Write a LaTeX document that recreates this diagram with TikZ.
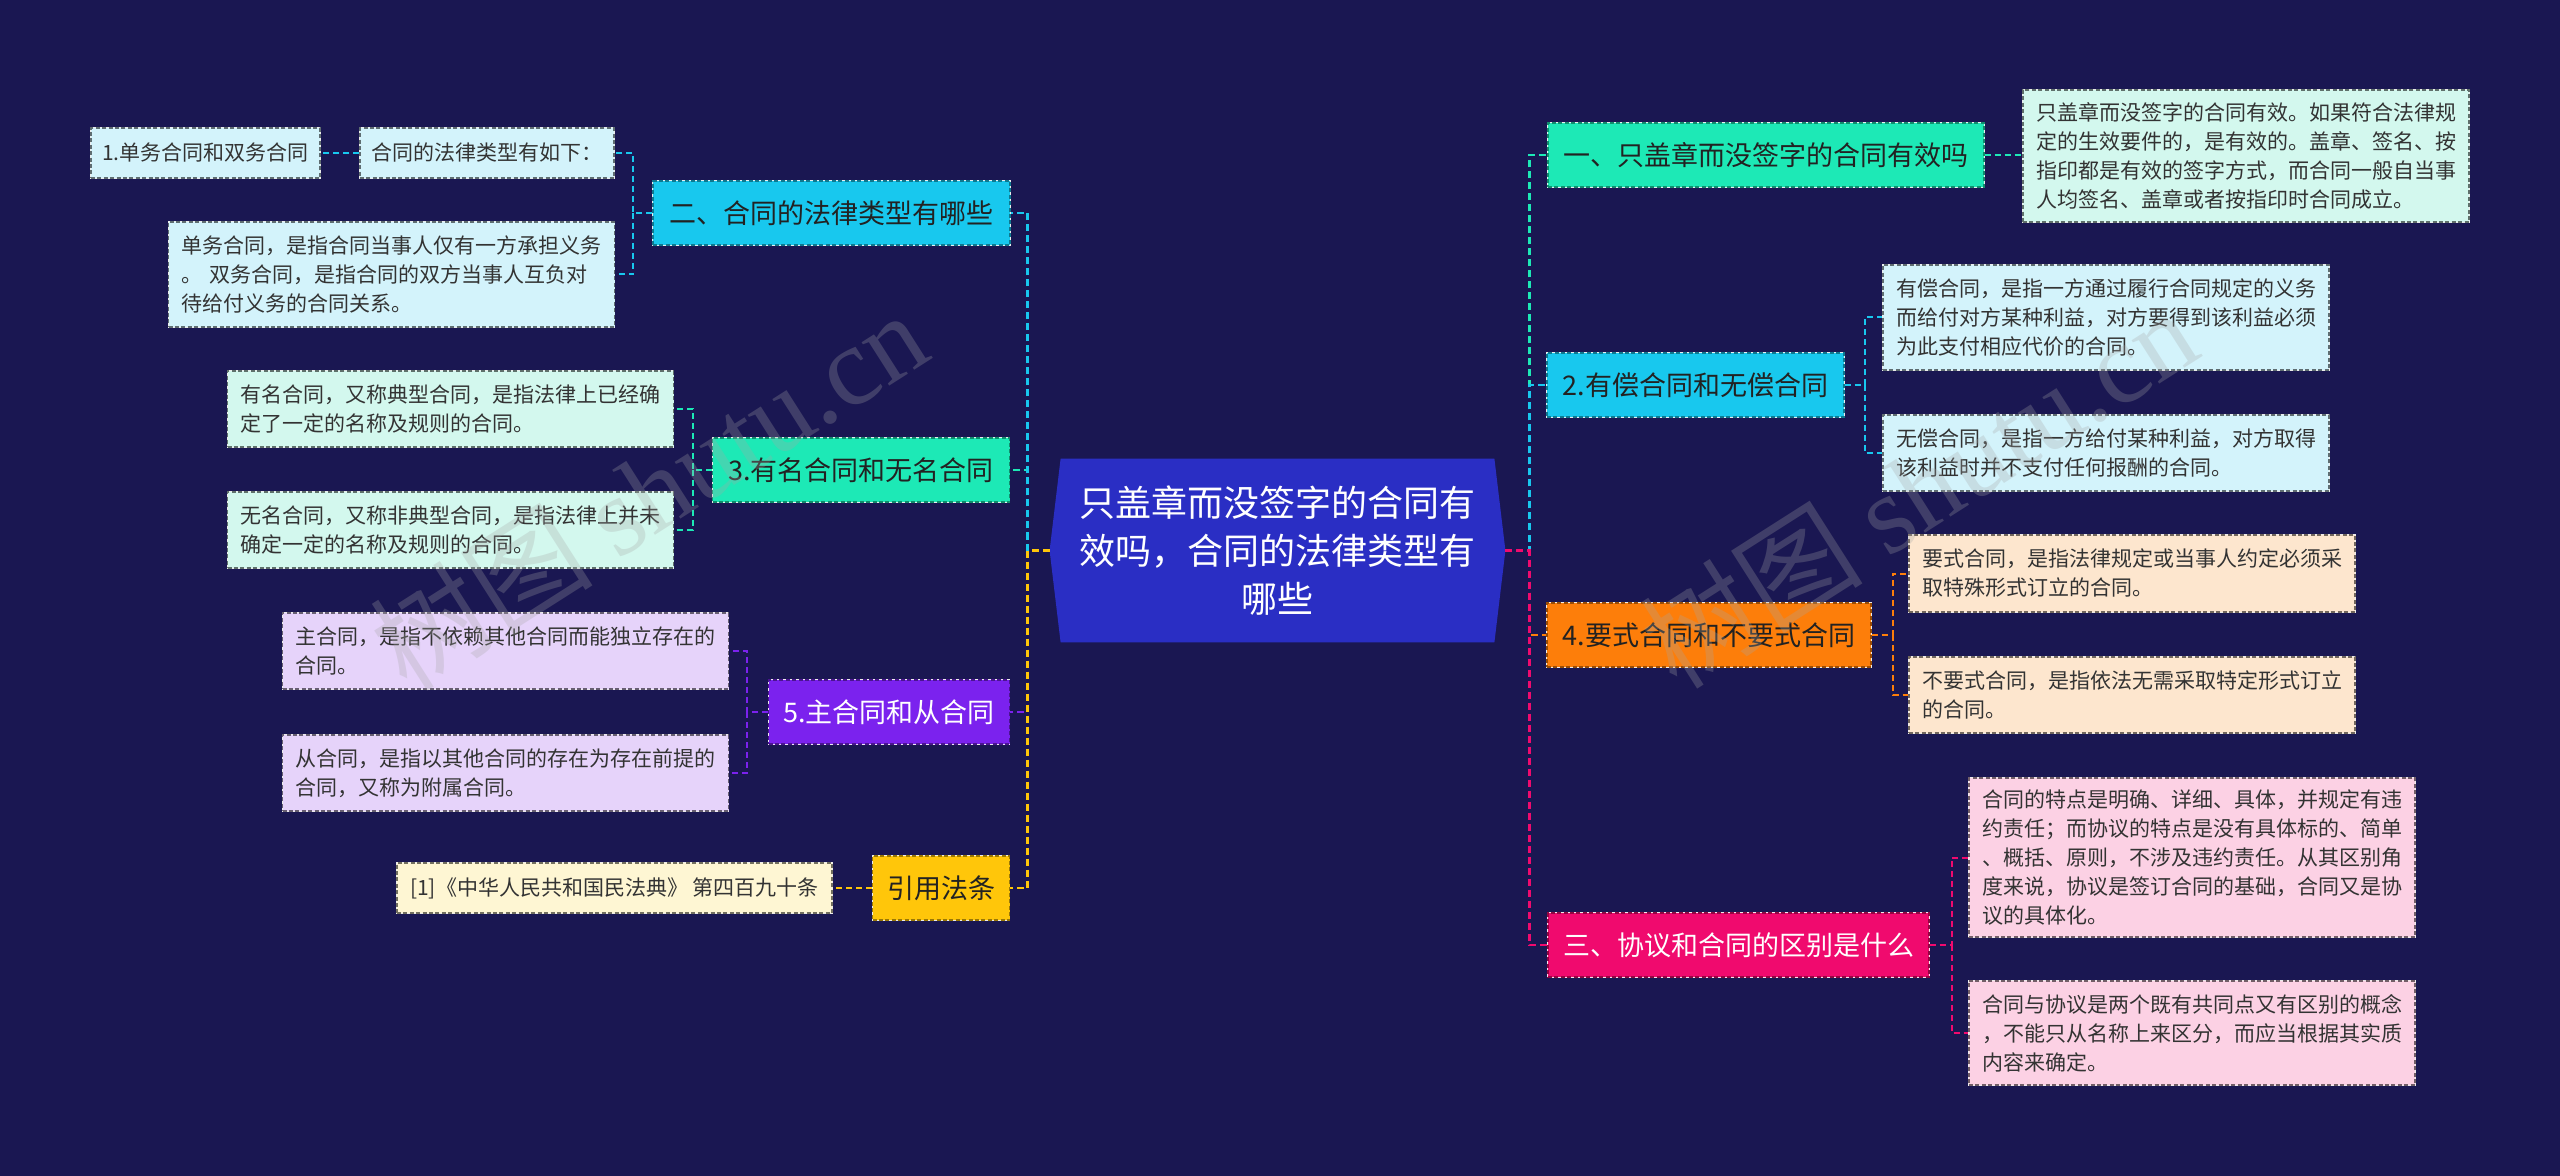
\documentclass[tikz,border=0pt]{standalone}
\usepackage{fontspec}
\setmainfont{Noto Sans CJK SC}
\newfontfamily\wmlatin{Liberation Serif}
\usetikzlibrary{calc}
\definecolor{bg}{HTML}{1A1752}
\definecolor{rootfill}{HTML}{2A2EC4}
\definecolor{cTeal}{HTML}{1DE9B6}
\definecolor{cCyan}{HTML}{18C8EE}
\definecolor{cOrange}{HTML}{FD7E0A}
\definecolor{cPink}{HTML}{F00A6E}
\definecolor{cPurple}{HTML}{7B22EE}
\definecolor{cYellow}{HTML}{FFC60A}
\definecolor{lTeal}{HTML}{D3F8EE}
\definecolor{lCyan}{HTML}{D3F3FB}
\definecolor{lOrange}{HTML}{FDE6CE}
\definecolor{lPink}{HTML}{FCD1E4}
\definecolor{lPurple}{HTML}{E6D3FA}
\definecolor{lYellow}{HTML}{FEF6D3}
\definecolor{darktext}{HTML}{222222}
\definecolor{leaftext}{HTML}{333333}
\begin{document}
\begin{tikzpicture}[x=0.5pt,y=-0.5pt,
  box/.style={rectangle, inner sep=0pt, line width=0.6pt, dash pattern=on 2pt off 1.2pt,
    preaction={draw=white!85!gray, solid, line width=0.6pt}},
  branch/.style={box, minimum height=32pt, align=center, font=\fontsize{13.5pt}{16pt}\selectfont},
  leaf/.style={box, text width=210pt, inner xsep=6.5pt, align=left, text=leaftext,
    font=\fontsize{10.5pt}{14.5pt}\selectfont},
  sleaf/.style={box, minimum height=25pt, align=center, text=leaftext,
    font=\fontsize{10.5pt}{14.5pt}\selectfont},
  conn/.style={line width=1pt, dash pattern=on 3pt off 2pt},
  trunk/.style={line width=1.3pt, dash pattern=on 3.5pt off 2pt},
  wm/.style={text=gray!70!white, opacity=0.28, rotate=32.5, font=\fontsize{56pt}{60pt}\selectfont}
]
\useasboundingbox (0,0) rectangle (2560,1176);
\fill[bg] (0,0) rectangle (2560,1176);

% root
\node[minimum width=227.5pt, minimum height=91.5pt, inner sep=0pt] (root) at (1277.5,550.5) {};
\fill[rootfill] (root.west) -- ($(root.north west)+(11,0)$) -- ($(root.north east)+(-11,0)$)
  -- (root.east) -- ($(root.south east)+(-11,0)$) -- ($(root.south west)+(11,0)$) -- cycle;
\node[align=center, text=white, font=\fontsize{18pt}{24pt}\selectfont] (roottxt) at (root.center)
  {只盖章而没签字的合同有\\效吗，合同的法律类型有\\哪些};

% right branches
\node[branch, fill=cTeal, draw=cTeal!60!black, text=darktext, minimum width=218pt] (bR1) at (1766,155) {一、只盖章而没签字的合同有效吗};
\node[branch, fill=cCyan, draw=cCyan!60!black, text=darktext, minimum width=148.5pt] (bR2) at (1695.5,385) {2.有偿合同和无偿合同};
\node[branch, fill=cOrange, draw=cOrange!60!black, text=darktext, minimum width=162pt] (bR3) at (1709,635) {4.要式合同和不要式合同};
\node[branch, fill=cPink, draw=cPink!60!black, text=white, minimum width=190.5pt] (bR4) at (1738.5,945) {三、协议和合同的区别是什么};

% right leaves
\node[leaf, fill=lTeal, draw=lTeal!45!black, minimum height=66pt] (lR1) at (2246,156)
  {只盖章而没签字的合同有效。如果符合法律规\\定的生效要件的，是有效的。盖章、签名、按\\指印都是有效的签字方式，而合同一般自当事\\人均签名、盖章或者按指印时合同成立。};
\node[leaf, fill=lCyan, draw=lCyan!45!black, minimum height=52.5pt] (lR2a) at (2106,317.5)
  {有偿合同，是指一方通过履行合同规定的义务\\而给付对方某种利益，对方要得到该利益必须\\为此支付相应代价的合同。};
\node[leaf, fill=lCyan, draw=lCyan!45!black, minimum height=38pt] (lR2b) at (2106,453)
  {无偿合同，是指一方给付某种利益，对方取得\\该利益时并不支付任何报酬的合同。};
\node[leaf, fill=lOrange, draw=lOrange!45!black, minimum height=38.5pt] (lR3a) at (2132,573.5)
  {要式合同，是指法律规定或当事人约定必须采\\取特殊形式订立的合同。};
\node[leaf, fill=lOrange, draw=lOrange!45!black, minimum height=38pt] (lR3b) at (2132,695)
  {不要式合同，是指依法无需采取特定形式订立\\的合同。};
\node[leaf, fill=lPink, draw=lPink!45!black, minimum height=79.5pt] (lR4a) at (2192,857.5)
  {合同的特点是明确、详细、具体，并规定有违\\约责任；而协议的特点是没有具体标的、简单\\、概括、原则，不涉及违约责任。从其区别角\\度来说，协议是签订合同的基础，合同又是协\\议的具体化。};
\node[leaf, fill=lPink, draw=lPink!45!black, minimum height=52pt] (lR4b) at (2192,1033)
  {合同与协议是两个既有共同点又有区别的概念\\，不能只从名称上来区分，而应当根据其实质\\内容来确定。};

% left branches
\node[branch, fill=cCyan, draw=cCyan!60!black, text=darktext, minimum width=178.5pt] (bL1) at (831.5,213) {二、合同的法律类型有哪些};
\node[branch, fill=cTeal, draw=cTeal!60!black, text=darktext, minimum width=148.5pt] (bL2) at (861,470) {3.有名合同和无名合同};
\node[branch, fill=cPurple, draw=cPurple!60!black, text=white, minimum width=120.5pt] (bL3) at (889,712) {5.主合同和从合同};
\node[branch, fill=cYellow, draw=cYellow!60!black, text=darktext, minimum width=68.5pt] (bL4) at (941,888) {引用法条};

% left leaves
\node[sleaf, fill=lCyan, draw=lCyan!45!black, minimum width=127pt] (lL1a) at (487,153) {合同的法律类型有如下：};
\node[sleaf, fill=lCyan, draw=lCyan!45!black, minimum width=114.5pt] (lL1x) at (205.5,153) {1.单务合同和双务合同};
\node[leaf, fill=lCyan, draw=lCyan!45!black, minimum height=52.5pt] (lL1b) at (391.5,274.5)
  {单务合同，是指合同当事人仅有一方承担义务\\。 双务合同，是指合同的双方当事人互负对\\待给付义务的合同关系。};
\node[leaf, fill=lTeal, draw=lTeal!45!black, minimum height=38pt] (lL2a) at (450.5,409)
  {有名合同，又称典型合同，是指法律上已经确\\定了一定的名称及规则的合同。};
\node[leaf, fill=lTeal, draw=lTeal!45!black, minimum height=38pt] (lL2b) at (450.5,530)
  {无名合同，又称非典型合同，是指法律上并未\\确定一定的名称及规则的合同。};
\node[leaf, fill=lPurple, draw=lPurple!45!black, minimum height=38pt] (lL3a) at (505.5,651)
  {主合同，是指不依赖其他合同而能独立存在的\\合同。};
\node[leaf, fill=lPurple, draw=lPurple!45!black, minimum height=38pt] (lL3b) at (505.5,773)
  {从合同，是指以其他合同的存在为存在前提的\\合同，又称为附属合同。};
\node[sleaf, fill=lYellow, draw=lYellow!45!black, minimum width=217.5pt] (lL4) at (614.5,888) {[1]《中华人民共和国民法典》 第四百九十条};

% trunk connectors right
\draw[trunk, cTeal] (root.east) -- ++(24,0) |- (bR1.west);
\draw[trunk, cCyan] (root.east) -- ++(24,0) |- (bR2.west);
\draw[trunk, cOrange] (root.east) -- ++(24,0) |- (bR3.west);
\draw[trunk, cPink] (root.east) -- ++(24,0) |- (bR4.west);
% trunk connectors left
\draw[trunk, cTeal] (root.west) -- ++(-22,0) |- (bL2.east);
\draw[trunk, cPurple] (root.west) -- ++(-22,0) |- (bL3.east);
\draw[trunk, cCyan] (root.west) -- ++(-22,0) |- (bL1.east);
\draw[trunk, cYellow] (root.west) -- ++(-22,0) |- (bL4.east);

% leaf connectors right
\draw[conn, cTeal] (bR1.east) -- (lR1.west |- bR1.east);
\draw[conn, cCyan] (bR2.east) -- ++(20,0) coordinate (jR2) |- (lR2a.west);
\draw[conn, cCyan] (jR2) |- (lR2b.west);
\draw[conn, cOrange] (bR3.east) -- ++(21,0) coordinate (jR3) |- (lR3a.west);
\draw[conn, cOrange] (jR3) |- (lR3b.west);
\draw[conn, cPink] (bR4.east) -- ++(22,0) coordinate (jR4) |- (lR4a.west);
\draw[conn, cPink] (jR4) |- (lR4b.west);
% leaf connectors left
\draw[conn, cCyan] (bL1.west) -- ++(-19,0) coordinate (jL1) |- (lL1a.east);
\draw[conn, cCyan] (jL1) |- (lL1b.east);
\draw[conn, cCyan] (lL1a.west) -- (lL1x.east);
\draw[conn, cTeal] (bL2.west) -- ++(-19,0) coordinate (jL2) |- (lL2a.east);
\draw[conn, cTeal] (jL2) |- (lL2b.east);
\draw[conn, cPurple] (bL3.west) -- ++(-21,0) coordinate (jL3) |- (lL3a.east);
\draw[conn, cPurple] (jL3) |- (lL3b.east);
\draw[conn, cYellow] (bL4.west) -- (lL4.east);

% watermarks
\node[wm] (wm1) at (648,490) {树图 {\wmlatin shutu.cn}};
\node[wm] (wm2) at (1918,488) {树图 {\wmlatin shutu.cn}};
\end{tikzpicture}
\end{document}
